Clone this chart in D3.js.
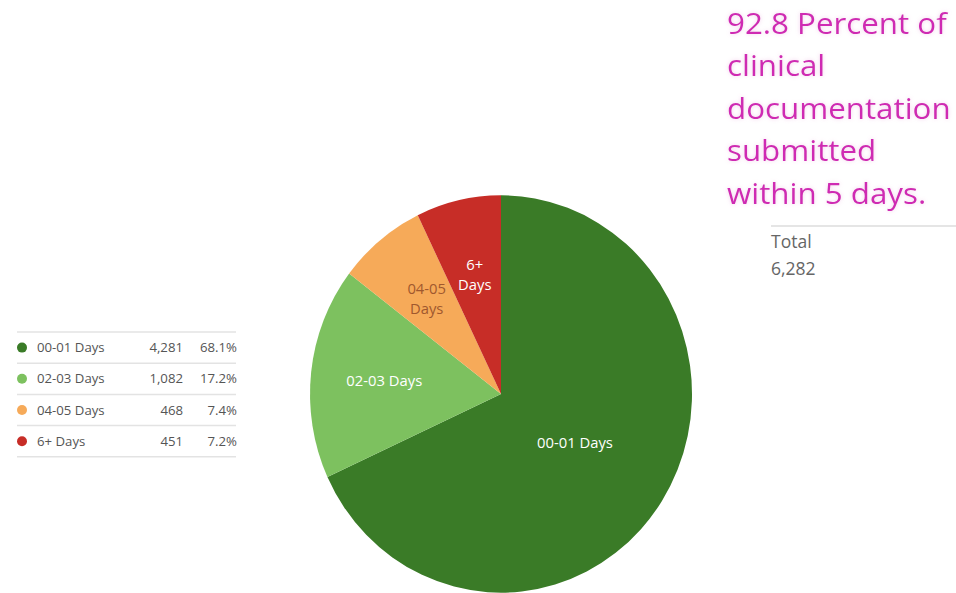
<!DOCTYPE html>
<html><head><meta charset="utf-8">
<script src="https://cdn.jsdelivr.net/npm/d3@7"></script>
<style>
html,body{margin:0;padding:0;background:#fff;}
svg{display:block;font-family:"Open Sans",sans-serif;}
</style></head>
<body>
<svg id="c" width="956" height="593"></svg>
<script>
const categories = ["00-01 Days", "02-03 Days", "04-05 Days", "6+ Days"];
const values = [4281, 1082, 468, 451];
const percents = ["68.1%", "17.2%", "7.4%", "7.2%"];
const colors = ["#3a7b27", "#7dc15f", "#f6aa59", "#c72d27"];
const labelColors = ["#ffffff", "#ffffff", "#a0582e", "#ffffff"];
const pieLabelLines = [["00-01 Days"], ["02-03 Days"], ["04-05", "Days"], ["6+", "Days"]];
const headlineLines = ["92.8 Percent of", "clinical", "documentation", "submitted", "within 5 days."];
const totalLabel = "Total";
const totalValue = "6,282";

const svg = d3.select("#c");
const data = categories.map((c, i) => ({cat: c, value: values[i], pct: percents[i], color: colors[i], lc: labelColors[i], lines: pieLabelLines[i]}));
const total = d3.sum(values);

// Pie
const R = 191;
const cx = 501, cy = 394;
const g = svg.append("g").attr("transform", `translate(${cx},${cy}) scale(1,1.04)`);
const pie = d3.pie().sort(null).value(d => d.value);
const arc = d3.arc().innerRadius(0).outerRadius(R);
const arcs = pie(data);
g.selectAll("path").data(arcs).enter().append("path")
  .attr("d", arc).attr("fill", d => d.data.color);

const lg = svg.append("g").attr("transform", `translate(${cx},${cy})`);
arcs.forEach(d => {
  const frac = d.data.value / total;
  const lr = frac > 0.5 ? 0.46 * R : 0.615 * R;
  const a = (d.startAngle + d.endAngle) / 2;
  const x = Math.sin(a) * lr, y = -Math.cos(a) * lr * 1.04;
  const n = d.data.lines.length;
  const t = lg.append("text").attr("text-anchor", "middle")
    .attr("fill", d.data.lc).attr("font-size", 14.8);
  d.data.lines.forEach((ln, i) => {
    t.append("tspan").attr("x", x).attr("y", y + (i - (n - 1) / 2) * 20 + 5).text(ln);
  });
});

// Legend
const legX = 17, legW = 219, rowH = 31.2, legTop = 332;
const leg = svg.append("g");
leg.append("line").attr("x1", legX).attr("x2", legX + legW).attr("y1", legTop).attr("y2", legTop)
  .attr("stroke", "#e3e3e3").attr("stroke-width", 1.5);
data.forEach((d, i) => {
  const yc = legTop + rowH * (i + 0.5);
  const yb = legTop + rowH * (i + 1);
  leg.append("circle").attr("cx", 22).attr("cy", yc).attr("r", 5).attr("fill", d.color);
  leg.append("text").attr("x", 37).attr("y", yc + 4.5).attr("font-size", 13.2).attr("fill", "#555").text(d.cat);
  leg.append("text").attr("x", 183).attr("y", yc + 4.5).attr("font-size", 13.2).attr("fill", "#555")
    .attr("text-anchor", "end").text(d3.format(",")(d.value));
  leg.append("text").attr("x", 237).attr("y", yc + 4.5).attr("font-size", 13.2).attr("fill", "#555")
    .attr("text-anchor", "end").text(d.pct);
  leg.append("line").attr("x1", legX).attr("x2", legX + legW).attr("y1", yb).attr("y2", yb)
    .attr("stroke", "#e3e3e3").attr("stroke-width", 1.5);
});

// Headline
const defs = svg.append("defs");
const f = defs.append("filter").attr("id", "glow").attr("x", "-10%").attr("y", "-30%").attr("width", "120%").attr("height", "160%");
f.append("feGaussianBlur").attr("in", "SourceAlpha").attr("stdDeviation", 2).attr("result", "b");
f.append("feFlood").attr("flood-color", "#e6a0d8").attr("flood-opacity", 0.5);
f.append("feComposite").attr("in2", "b").attr("operator", "in").attr("result", "s");
const fm = f.append("feMerge");
fm.append("feMergeNode").attr("in", "s");
fm.append("feMergeNode").attr("in", "SourceGraphic");

const hl = svg.append("text").attr("font-size", 29).attr("fill", "#cf2cb3").attr("filter", "url(#glow)")
  .attr("transform", "translate(727,0) scale(1.08,1)");
headlineLines.forEach((ln, i) => {
  hl.append("tspan").attr("x", 0).attr("y", 34 + i * 42.5).text(ln);
});

svg.append("line").attr("x1", 771).attr("x2", 956).attr("y1", 226).attr("y2", 226)
  .attr("stroke", "#dcdcdc").attr("stroke-width", 1.5);
svg.append("text").attr("x", 771).attr("y", 248).attr("font-size", 17.5).attr("fill", "#666").text(totalLabel);
svg.append("text").attr("x", 771).attr("y", 275).attr("font-size", 17.5).attr("fill", "#666").text(totalValue);
</script>
</body></html>
